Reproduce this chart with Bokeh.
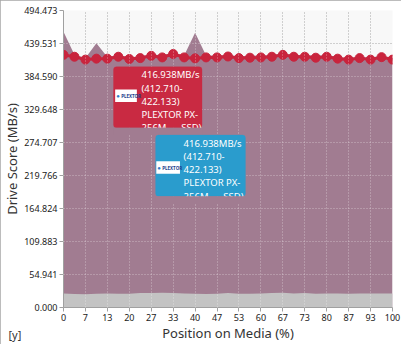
from bokeh.plotting import figure
from bokeh.models import Range1d, FixedTicker, Label, BoxAnnotation, ColumnDataSource, Grid, Title
from bokeh.embed import file_html
from bokeh.resources import INLINE

# ---------------- data ----------------
x_pos = [0, 3.33, 6.67, 10, 13.33, 16.67, 20, 23.33, 26.67, 30, 33.33, 36.67, 40,
         43.33, 46.67, 50, 53.33, 56.67, 60, 63.33, 66.67, 70, 73.33, 76.67, 80,
         83.33, 86.67, 90, 93.33, 96.67, 100]
avg_vals = [420.6, 417.5, 412.7, 414.3, 414.3, 417.5, 413.7, 415.2, 419.0, 416.4,
            422.1, 416.4, 414.8, 416.4, 416.4, 417.9, 415.2, 415.9, 416.4, 417.5,
            420.6, 417.5, 417.5, 415.9, 417.5, 414.3, 412.7, 415.2, 412.7, 416.8, 412.7]
max_vals = [459.0, 421.0, 415.5, 440.0, 417.0, 420.5, 416.5, 418.0, 422.0, 419.5,
            425.0, 419.5, 457.5, 419.5, 419.5, 421.0, 418.0, 419.0, 419.5, 420.5,
            423.5, 420.5, 420.5, 419.0, 420.5, 417.0, 415.5, 418.0, 415.5, 420.0, 415.5]
min_vals = [23.5, 22.5, 22.0, 23.0, 23.5, 23.0, 23.0, 24.0, 24.0, 24.5, 24.0, 23.5,
            23.0, 22.5, 23.0, 24.0, 23.0, 23.0, 23.5, 24.0, 24.5, 23.5, 24.0, 23.0,
            23.5, 23.5, 23.0, 23.5, 23.5, 23.5, 23.5]

y_ticks = [0.0, 54.941, 109.883, 164.824, 219.766, 274.707, 329.648, 384.590, 439.531, 494.473]
x_ticks = [0, 6.667, 13.333, 20, 26.667, 33.333, 40, 46.667, 53.333, 60, 66.667,
           73.333, 80, 86.667, 93.333, 100]
x_tick_labels = ["0", "7", "13", "20", "27", "33", "40", "47", "53", "60", "67",
                 "73", "80", "87", "93", "100"]

NB = "\u00a0"
tip_lines = ["416.938MB/s", "(412.710-", "422.133)", "PLEXTOR PX-", "256M" + NB * 6 + "SSD)"]
# tooltip boxes (data coords): left, right, top, bottom
red_tip = dict(left=15.2, right=42.1, top=400.9, bottom=299.3)
blue_tip = dict(left=28.0, right=55.3, top=287.1, bottom=185.1)
red_logo = dict(left=15.7, right=22.3, top=363.0, bottom=342.3)
blue_logo = dict(left=28.2, right=35.4, top=243.3, bottom=222.7)

FONT = "Noto Sans"
MAUVE = "#a17c91"

src = ColumnDataSource(dict(x=x_pos, avg=avg_vals, mx=max_vals, mn=min_vals))

p = figure(width=401, height=344, x_range=Range1d(0, 100), y_range=Range1d(0, 494.473),
           output_backend="svg", toolbar_location=None,
           min_border_left=62, min_border_right=9, min_border_top=10, min_border_bottom=35)
p.styles = {"outline": "1px solid #a6a6a6", "outline-offset": "-1px"}
p.background_fill_color = "#f8f8f8"
p.border_fill_color = "white"
p.outline_line_color = None

p.varea(x="x", y1=0, y2="mx", source=src, fill_color=MAUVE)
p.varea(x="x", y1=0, y2="mn", source=src, fill_color="#c3c3c3")
p.line(x="x", y="avg", source=src, line_color="#c9243d", line_width=3)
p.scatter(x="x", y="avg", source=src, size=9, fill_color="#c9243d", line_color="#c9243d")

# axes
p.xaxis.ticker = FixedTicker(ticks=x_ticks)
p.xaxis.major_label_overrides = {t: l for t, l in zip(x_ticks, x_tick_labels)}
p.yaxis.ticker = FixedTicker(ticks=y_ticks)
p.yaxis.major_label_overrides = {t: "%.3f" % t for t in y_ticks}
for ax in (p.xaxis, p.yaxis):
    ax.axis_line_color = "#a0a0a0"
    ax.major_tick_line_color = "#a0a0a0"
    ax.major_tick_out = 4
    ax.major_tick_in = 0
    ax.minor_tick_line_color = None
    ax.major_label_text_font = FONT
    ax.major_label_text_font_size = "9px"
    ax.major_label_text_color = "#222222"
    ax.major_label_standoff = 2
    ax.axis_label_text_font = FONT
    ax.axis_label_text_font_size = "13px"
    ax.axis_label_text_font_style = "normal"
    ax.axis_label_text_color = "#333333"
    ax.axis_label_standoff = 0
p.yaxis.axis_label = "Drive Score (MB/s)"
p.xaxis.axis_label = "Position on Media (%)"

# dark dotted grid below the areas, light dotted grid over them
for g, tk in ((p.xgrid, x_ticks), (p.ygrid, y_ticks)):
    g.ticker = FixedTicker(ticks=tk)
    g.grid_line_color = "#8a8a8a"
    g.grid_line_dash = "1 2"
    g.grid_line_width = 1
for dim, tk in ((0, x_ticks), (1, y_ticks)):
    p.add_layout(Grid(dimension=dim, ticker=FixedTicker(ticks=tk), grid_line_color="white",
                      grid_line_alpha=0.45, grid_line_dash="1 2", level="guide"), "center")


def tooltip(box, logo, color):
    p.add_layout(BoxAnnotation(left=box["left"], right=box["right"], top=box["top"],
                               bottom=box["bottom"], fill_color=color, fill_alpha=1,
                               line_color=color, border_radius=3))
    p.add_layout(BoxAnnotation(left=logo["left"], right=logo["right"], top=logo["top"],
                               bottom=logo["bottom"], fill_color="white", fill_alpha=1,
                               line_color=None))
    p.add_layout(Label(x=logo["left"], y=(logo["top"] + logo["bottom"]) / 2, x_offset=1,
                       text="\u25CF", text_font_size="6px", text_color="#2b78c8",
                       text_baseline="middle"))
    p.add_layout(Label(x=logo["left"], y=(logo["top"] + logo["bottom"]) / 2, x_offset=6,
                       text="PLEXTOR", text_font=FONT, text_font_size="4.5px",
                       text_font_style="bold", text_color="#1d3f8c", text_baseline="middle"))
    for i, t in enumerate(tip_lines):
        p.add_layout(Label(x=box["left"], y=box["top"], x_offset=28, y_offset=-8 - 13.3 * i,
                           text=t, text_font=FONT, text_font_size="9.5px",
                           text_color="white", text_baseline="middle"))
    # clip the last, partly hidden line
    p.add_layout(BoxAnnotation(left=box["left"], right=box["right"], top=box["bottom"],
                               bottom=box["bottom"] - 12, fill_color=MAUVE, fill_alpha=1,
                               line_color=None))


tooltip(red_tip, red_logo, "#c92a42")
tooltip(blue_tip, blue_logo, "#2a9ccd")

p.add_layout(Title(text="[y]", align="left", offset=-55, standoff=-36, vertical_align="top",
                   text_font=FONT, text_font_size="11px", text_font_style="normal",
                   text_color="#333333"), "below")

open("out.html", "w").write(file_html(p, INLINE))
